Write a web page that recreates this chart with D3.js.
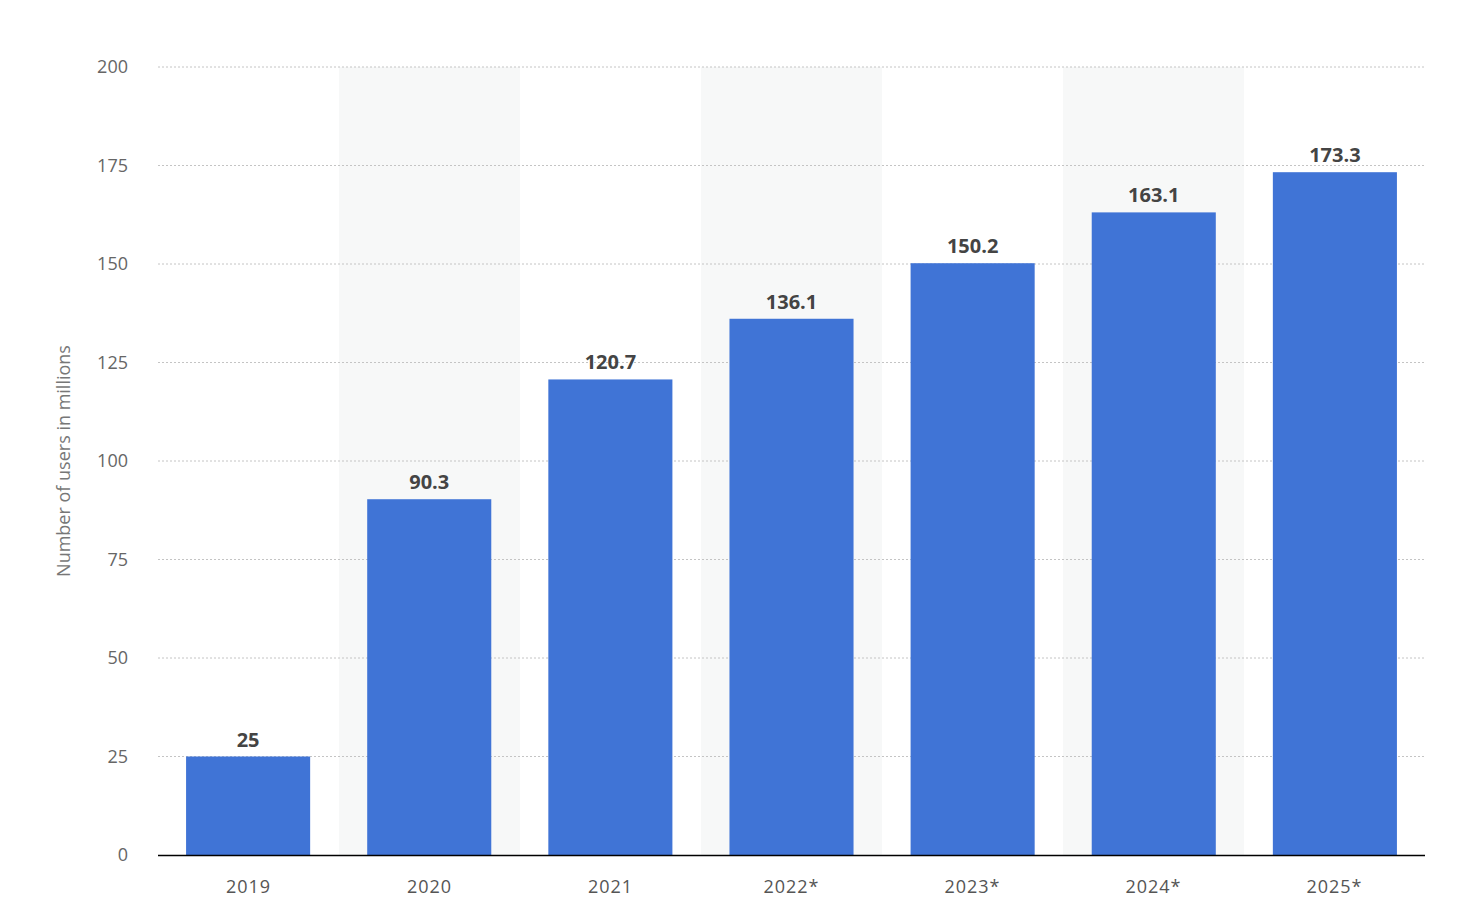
<!DOCTYPE html>
<html>
<head>
<meta charset="utf-8">
<script src="https://cdn.jsdelivr.net/npm/d3@7"></script>
<style>
body { margin: 0; background: #fff; }
text { font-family: "Open Sans", "DejaVu Sans", sans-serif; }
</style>
</head>
<body>
<script>
// Chart data
var years = ['2019', '2020', '2021', '2022*', '2023*', '2024*', '2025*'];
var users = [25, 90.3, 120.7, 136.1, 150.2, 163.1, 173.3];
var yTicks = [0, 25, 50, 75, 100, 125, 150, 175, 200];

(function () {
    var svg = d3.select('body').append('svg')
        .attr('width', 1466)
        .attr('height', 924);

    var pLeft = 158, pRight = 1425, pTop = 67, pBottom = 855;

    var x = d3.scaleBand().domain(years).range([pLeft, pRight]).paddingInner(0.315).paddingOuter(0.155);
    var xBand = d3.scaleBand().domain(years).range([pLeft, pRight]);
    var y = d3.scaleLinear().domain([0, 200]).range([pBottom, pTop]);

    // Alternating shaded columns
    svg.selectAll('rect.shade')
        .data(years.filter(function (d, i) { return i % 2 === 1; }))
        .enter().append('rect')
        .attr('class', 'shade')
        .attr('x', function (d) { return xBand(d); })
        .attr('y', pTop)
        .attr('width', xBand.bandwidth())
        .attr('height', pBottom - pTop)
        .attr('fill', '#f7f8f8');

    // Grid lines
    svg.selectAll('line.grid')
        .data(yTicks.slice(1))
        .enter().append('line')
        .attr('x1', pLeft).attr('x2', pRight)
        .attr('y1', function (d) { return y(d); })
        .attr('y2', function (d) { return y(d); })
        .attr('stroke', '#c4c4c4')
        .attr('stroke-dasharray', '2,2');

    // Y tick labels
    svg.selectAll('text.ytick')
        .data(yTicks)
        .enter().append('text')
        .attr('x', 128)
        .attr('y', function (d) { return y(d); })
        .attr('dy', '0.35em')
        .attr('text-anchor', 'end')
        .attr('font-size', 18)
        .attr('fill', '#666')
        .text(function (d) { return d; });

    // Y axis title
    svg.append('text')
        .attr('transform', 'translate(70,' + ((pTop + pBottom) / 2) + ') rotate(-90)')
        .attr('text-anchor', 'middle')
        .attr('font-size', 18)
        .attr('fill', '#777')
        .text('Number of users in millions');

    // Bars
    svg.selectAll('rect.bar')
        .data(users)
        .enter().append('rect')
        .attr('class', 'bar')
        .attr('x', function (d, i) { return x(years[i]); })
        .attr('y', function (d) { return y(d); })
        .attr('width', x.bandwidth())
        .attr('height', function (d) { return pBottom - y(d); })
        .attr('fill', '#4074d6');

    // Value labels
    svg.selectAll('text.val')
        .data(users)
        .enter().append('text')
        .attr('x', function (d, i) { return x(years[i]) + x.bandwidth() / 2; })
        .attr('y', function (d) { return y(d) - 10; })
        .attr('text-anchor', 'middle')
        .attr('font-size', 20)
        .attr('font-weight', 'bold')
        .attr('fill', '#444')
        .text(function (d) { return d; });

    // X axis
    svg.append('line')
        .attr('x1', pLeft).attr('x2', pRight)
        .attr('y1', pBottom + 0.5).attr('y2', pBottom + 0.5)
        .attr('stroke', '#000').attr('stroke-width', 1.5);

    svg.selectAll('text.xtick')
        .data(years)
        .enter().append('text')
        .attr('x', function (d) { return xBand(d) + xBand.bandwidth() / 2; })
        .attr('y', 893)
        .attr('text-anchor', 'middle')
        .attr('font-size', 18)
        .attr('fill', '#555')
        .attr('letter-spacing', 1)
        .text(function (d) { return d; });
}());
</script>
</body>
</html>
